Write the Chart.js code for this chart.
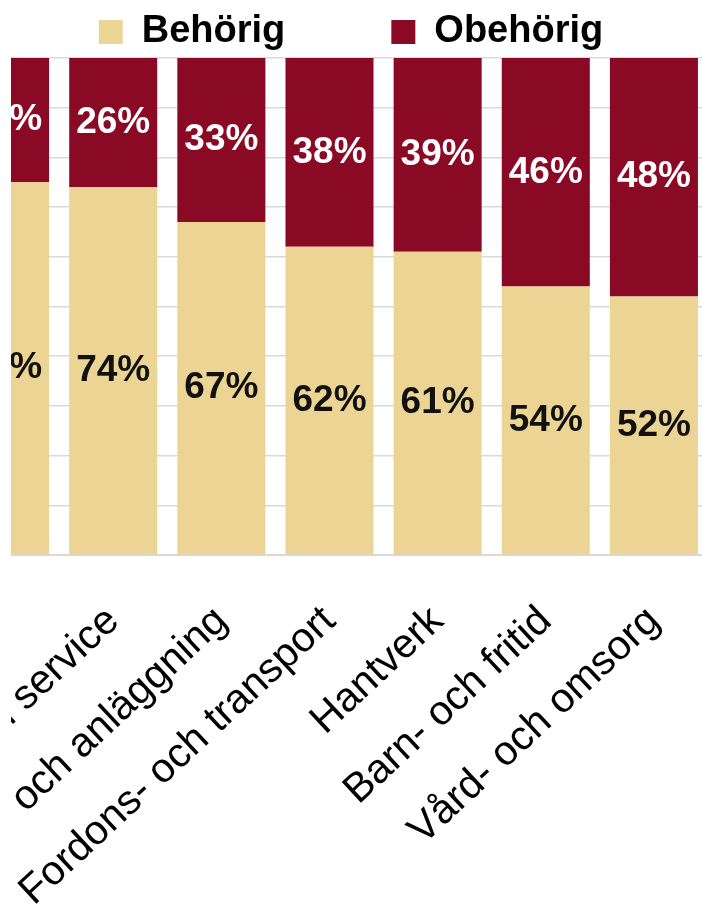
<!DOCTYPE html>
<html>
<head>
<meta charset="utf-8">
<script src="https://cdn.jsdelivr.net/npm/chart.js@4.4.1/dist/chart.umd.min.js"></script>
<style>
  html, body { margin: 0; padding: 0; background: #fff; }
  /* the reference is a crop of a wider chart, so the canvas hangs off the left edge */
  #crop { position: absolute; left: 11px; top: 0; width: 691px; height: 916px; overflow: hidden; }
  #wrap { position: absolute; left: -460px; top: -93px; width: 1200px; height: 1100px; }
</style>
</head>
<body>
<div id="crop"><div id="wrap"><canvas id="chart"></canvas></div></div>
<script>
const categories = ['Restaurang- och livsmedel', 'Handel och service', 'Bygg- och anläggning',
  'Fordons- och transport', 'Hantverk', 'Barn- och fritid', 'Vård- och omsorg'];
const behorig = [75, 74, 67, 62, 61, 54, 52];
const obehorig = [25, 26, 33, 38, 39, 46, 48];
const yMax = 100;
const yStep = 10;

const FONT = '"Liberation Sans", Arial, sans-serif';
Chart.defaults.font.family = FONT;
Chart.defaults.color = '#000';

// percent labels in the middle of each segment
const segmentLabels = {
  id: 'segmentLabels',
  afterDatasetsDraw(chart) {
    const ctx = chart.ctx;
    ctx.save();
    ctx.font = 'bold 37px ' + FONT;
    ctx.textAlign = 'center';
    ctx.textBaseline = 'middle';
    chart.data.datasets.forEach((ds, i) => {
      chart.getDatasetMeta(i).data.forEach((bar, j) => {
        ctx.fillStyle = ds.labelColor;
        ctx.fillText(ds.data[j] + '%', bar.x, (bar.y + bar.base) / 2);
      });
    });
    ctx.restore();
  }
};

new Chart(document.getElementById('chart'), {
  type: 'bar',
  data: {
    labels: categories,
    datasets: [{
      label: 'Behörig',
      data: behorig,
      backgroundColor: '#ecd594',
      labelColor: '#111'
    }, {
      label: 'Obehörig',
      data: obehorig,
      backgroundColor: '#8a0a25',
      labelColor: '#fff'
    }]
  },
  options: {
    responsive: true,
    maintainAspectRatio: false,
    animation: false,
    barPercentage: 0.814,
    categoryPercentage: 1,
    layout: { padding: { left: 400, right: 0, top: 0, bottom: 0 } },
    plugins: {
      legend: {
        position: 'top',
        maxHeight: 151,
        labels: {
          boxWidth: 24,
          boxHeight: 24,
          padding: 106,
          color: '#000',
          font: { size: 38, weight: 'bold' }
        }
      },
      tooltip: { enabled: false }
    },
    scales: {
      x: {
        stacked: true,
        grid: { display: false, drawTicks: false },
        border: { display: true, color: '#d9d9d9', width: 2 },
        ticks: {
          autoSkip: false,
          minRotation: 43,
          maxRotation: 43,
          padding: 42,
          color: '#000',
          font: { size: 41 }
        },
        afterFit(axis) { axis.height = 452; }
      },
      y: {
        stacked: true,
        position: 'right',
        min: 0,
        max: yMax,
        ticks: { display: false, stepSize: yStep },
        grid: { color: '#d9d9d9', lineWidth: 1.5, drawTicks: false },
        border: { display: false },
        afterFit(axis) { axis.width = 43; }
      }
    }
  },
  plugins: [segmentLabels]
});
</script>
</body>
</html>
